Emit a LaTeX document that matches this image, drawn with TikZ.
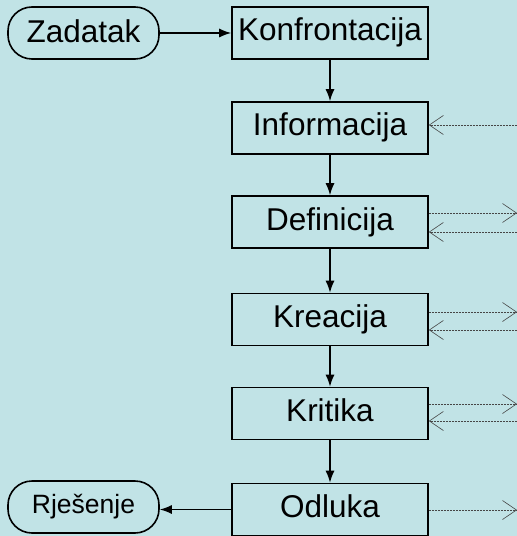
\documentclass[tikz,border=0pt]{standalone}
\usepackage{fontspec}
\setmainfont{Liberation Sans}
\usepackage{tikz}
\usetikzlibrary{arrows.meta,positioning,calc}
\definecolor{panelcyan}{RGB}{193,227,230}
\definecolor{linkgray}{RGB}{70,70,70}

\begin{document}
\begin{tikzpicture}[x=1bp,y=-1bp,
    stage/.style={draw,line width=1.6bp,minimum width=196bp,minimum height=52bp,inner sep=0pt,
        text height=24bp,text depth=8bp,font=\fontsize{31.5bp}{38bp}\selectfont},
    terminal/.style={stage,rounded corners=24bp,minimum width=151bp,text depth=4bp},
    flow/.style={line width=1.4bp,-{Latex[length=12bp,width=9bp]}},
    link/.style={linkgray,line width=0.6bp,dash pattern=on 2bp off 1bp,
        -{Straight Barb[length=14bp,width=19bp,line width=0.6bp]}}]
    % Background panel
    \fill[panelcyan] (0,0) rectangle (517,536);
    \useasboundingbox (0,0) rectangle (517,536);

    % Main chain of stages
    \node[terminal] (task) at (83.5,33) {Zadatak};
    \node[stage] (konf) at (330,33) {Konfrontacija};
    \node[stage] (info) at (330,128) {Informacija};
    \node[stage] (defi) at (330,222) {Definicija};
    \node[stage] (krea) at (330,319.5) {Kreacija};
    \node[stage] (krit) at (330,413.5) {Kritika};
    \node[stage] (odl) at (330,509.5) {Odluka};
    \node[terminal,text height=20bp,text depth=8bp,font=\fontsize{26.5bp}{32bp}\selectfont]
        (sol) at (83.5,507) {Rješenje};

    \draw[flow] (task) -- (konf);
    \draw[flow] (konf) -- (info);
    \draw[flow] (info) -- (defi);
    \draw[flow] (defi) -- (krea);
    \draw[flow] (krea) -- (krit);
    \draw[flow] (krit) -- (odl);
    \draw[flow] (odl.west) -- (odl.west -| sol.east);

    % Links to the right edge
    \coordinate (infoin) at (517,125);
    \coordinate (defiout) at (517,213);
    \coordinate (defiin) at (517,232);
    \coordinate (kreaout) at (517,312);
    \coordinate (kreain) at (517,330);
    \coordinate (kritout) at (517,404);
    \coordinate (kritin) at (517,421);
    \coordinate (odlout) at (517,510);

    \draw[link] (infoin) -- (infoin -| info.east);
    \draw[link] (defiout -| defi.east) -- (defiout);
    \draw[link] (defiin) -- (defiin -| defi.east);
    \draw[link] (kreaout -| krea.east) -- (kreaout);
    \draw[link] (kreain) -- (kreain -| krea.east);
    \draw[link] (kritout -| krit.east) -- (kritout);
    \draw[link] (kritin) -- (kritin -| krit.east);
    \draw[link] (odlout -| odl.east) -- (odlout);
\end{tikzpicture}
\end{document}
